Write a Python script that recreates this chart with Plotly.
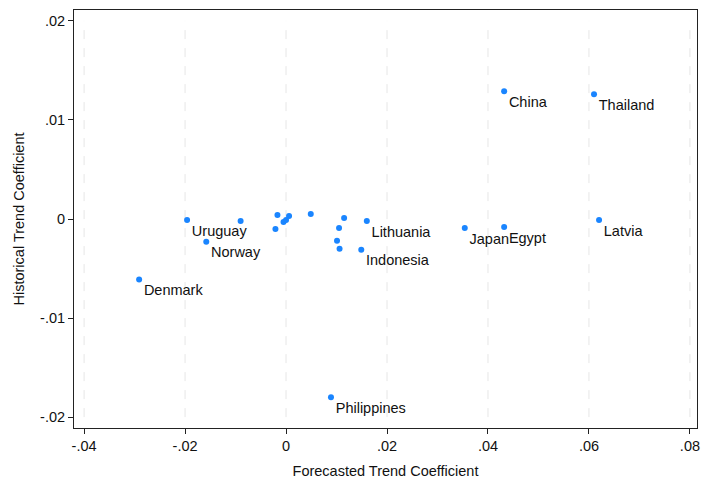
import plotly.graph_objects as go

# Labeled countries
labels = ["China", "Thailand", "Latvia", "Egypt", "Japan", "Lithuania", "Indonesia",
          "Philippines", "Denmark", "Uruguay", "Norway"]
lab_x = [0.0432, 0.0610, 0.0620, 0.0432, 0.0354, 0.0160, 0.0149,
         0.0089, -0.0291, -0.0196, -0.0158]
lab_y = [0.0129, 0.0126, -0.0001, -0.0008, -0.0009, -0.0002, -0.0031,
         -0.0180, -0.0061, -0.0001, -0.0023]

# Unlabeled points
unl_x = [-0.0090, -0.0017, -0.0021, -0.0005, 0.0000, 0.0006, 0.0049,
         0.0115, 0.0105, 0.0101, 0.0106]
unl_y = [-0.0002, 0.0004, -0.0010, -0.0003, -0.0001, 0.0003, 0.0005,
         0.0001, -0.0009, -0.0022, -0.0030]

x_ticks = [-0.04, -0.02, 0, 0.02, 0.04, 0.06, 0.08]
x_tick_text = ["-.04", "-.02", "0", ".02", ".04", ".06", ".08"]
y_ticks = [-0.02, -0.01, 0, 0.01, 0.02]
y_tick_text = ["-.02", "-.01", "0", ".01", ".02"]

color = "#1a85ff"
font = "Liberation Sans, Arial, sans-serif"
fs = 14.5

fig = go.Figure()
fig.add_trace(go.Scatter(
    x=unl_x, y=unl_y, mode="markers",
    marker=dict(color=color, size=6), showlegend=False))
fig.add_trace(go.Scatter(
    x=lab_x, y=lab_y, mode="markers+text", text=labels,
    textposition="bottom right",
    textfont=dict(family=font, size=fs, color="#111111"),
    marker=dict(color=color, size=6), showlegend=False))

for xv in x_ticks:
    fig.add_shape(type="line", x0=xv, x1=xv, y0=-0.02, y1=0.02,
                  xref="x", yref="y", layer="below",
                  line=dict(color="#e6e6e6", width=1, dash="dash"))

fig.update_layout(
    width=702, height=484,
    margin=dict(l=74, r=5, t=10, b=56, autoexpand=False),
    paper_bgcolor="white", plot_bgcolor="white",
    font=dict(family=font, size=fs, color="#111111"),
    xaxis=dict(range=[-0.042, 0.0814], tickvals=x_ticks, ticktext=x_tick_text,
               showgrid=False, zeroline=False, showline=True, mirror=True,
               linecolor="#222222", linewidth=1, ticks="outside", ticklen=5,
               tickcolor="#222222", automargin=False,
               title=dict(text="Forecasted Trend Coefficient", standoff=12,
                          font=dict(size=fs)),
               tickfont=dict(size=fs)),
    yaxis=dict(range=[-0.0211, 0.0211], tickvals=y_ticks, ticktext=y_tick_text,
               showgrid=False, zeroline=False, showline=True, mirror=True,
               linecolor="#222222", linewidth=1, ticks="outside", ticklen=5,
               tickcolor="#222222", automargin=False,
               title=dict(text="Historical Trend Coefficient", standoff=12,
                          font=dict(size=fs)),
               tickfont=dict(size=fs)),
)

fig.write_html("out.html", config={"displayModeBar": False},
               post_script="document.body.style.margin='0';document.body.style.overflow='hidden';")
